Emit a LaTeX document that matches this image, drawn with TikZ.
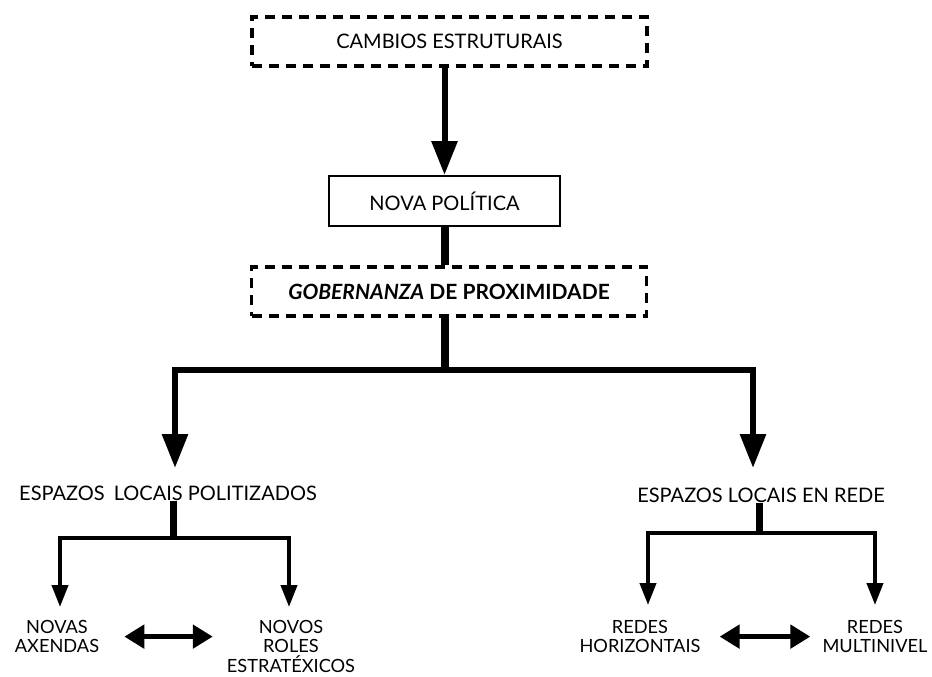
\documentclass[tikz,border=0pt]{standalone}
\usepackage{fontspec}
\setmainfont{Lato}
\usetikzlibrary{arrows.meta,positioning}

\tikzset{
  dashbox/.style={draw, line width=3.5pt, dash pattern=on 10pt off 7pt,
    minimum width=395pt, minimum height=49pt, inner sep=0pt},
  solidbox/.style={draw, line width=2pt,
    minimum width=231pt, minimum height=50pt, inner sep=0pt},
  txt/.style={align=center, inner sep=0pt,
    font=\fontsize{20}{21}\selectfont},
  smalltxt/.style={align=center, inner sep=0pt, anchor=north,
    font=\fontsize{18.2}{19.5}\selectfont},
  bigarrow/.style={line width=6pt, line join=miter,
    -{Triangle[length=34pt,width=25pt]}},
  trunk/.style={line width=8pt},
  stem/.style={line width=7pt},
  smallarrow/.style={line width=4pt, line join=miter,
    -{Triangle[length=22pt,width=16pt]}},
  twoway/.style={line width=5pt,
    {Triangle[length=20pt,width=23pt]}-{Triangle[length=20pt,width=23pt]}}
}

\begin{document}
\begin{tikzpicture}[x=1pt,y=-1pt]
  \useasboundingbox (0,0) rectangle (932,677);

  % top of the chain
  \node[dashbox, txt] (cambios) at (449.5,41.5) {CAMBIOS ESTRUTURAIS};
  \node[solidbox, txt] (nova) at (444.5,201) {NOVA POLÍTICA};
  \node[dashbox, txt] (gob) at (449,291.5)
    {\fontsize{21}{22}\selectfont\bfseries\itshape GOBERNANZA\upshape{} DE PROXIMIDADE};

  \draw[bigarrow] (nova.north |- cambios.south) -- (nova.north);
  \draw[trunk] (nova.south) -- (nova.south |- gob.north);

  % split in two
  \coordinate (split) at (444.5,370);
  \coordinate (leftin) at (175,468);
  \coordinate (rightin) at (753,468);
  \draw[trunk] (gob.south -| split) -- (split);
  \draw[bigarrow] (split) -| (leftin);
  \draw[bigarrow] (split) -| (rightin);

  % left branch
  \node[txt] (politizados) at (168,493) {ESPAZOS\hspace{0.45em}LOCAIS POLITIZADOS};
  \coordinate (leftsub) at (173,538);
  \coordinate (axin) at (60,607);
  \coordinate (rolin) at (289,607);
  \draw[stem] (politizados.south -| leftsub) -- (leftsub);
  \draw[smallarrow] (leftsub) -| (axin);
  \draw[smallarrow] (leftsub) -| (rolin);

  \node[smalltxt] (axendas) at (57,620) {NOVAS\\AXENDAS};
  \node[smalltxt] (roles) at (291,620) {NOVOS\\ROLES\\ESTRATÉXICOS};
  \draw[twoway] ([xshift=25pt]axendas.east) -- ([xshift=-14pt]axendas.east -| roles.west);

  % right branch
  \node[txt] (enrede) at (761,495) {ESPAZOS LOCAIS EN REDE};
  \coordinate (rightsub) at (759,533);
  \coordinate (horin) at (648,605);
  \coordinate (multin) at (875,605);
  \draw[stem] (enrede.south -| rightsub) -- (rightsub);
  \draw[smallarrow] (rightsub) -| (horin);
  \draw[smallarrow] (rightsub) -| (multin);

  \node[smalltxt] (horizontais) at (640,620) {REDES\\HORIZONTAIS};
  \node[smalltxt] (multinivel) at (875,620) {REDES\\MULTINIVEL};
  \draw[twoway] ([xshift=19pt]horizontais.east) -- ([xshift=-12pt]horizontais.east -| multinivel.west);
\end{tikzpicture}
\end{document}
